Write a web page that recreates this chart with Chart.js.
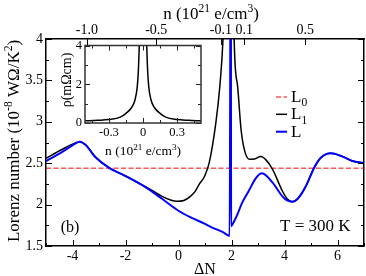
<!DOCTYPE html>
<html>
<head>
<meta charset="utf-8">
<script src="https://cdn.jsdelivr.net/npm/chart.js@4.4.1/dist/chart.umd.min.js"></script>
<style>
  body { margin: 0; background: #fff; }
  #wrap { position: relative; width: 366px; height: 276px; }
  #main { position: absolute; left: 0; top: 0; }
  #inset { position: absolute; left: 55px; top: 35px; }
</style>
</head>
<body>
<div id="wrap">
  <canvas id="main" width="366" height="276"></canvas>
  <canvas id="inset" width="152" height="125"></canvas>
</div>
<script>
// Lorenz number vs ΔN, T = 300 K
const dnL1 = [-5, -4.4, -4.0, -3.73, -3.5, -3.14, -2.63, -2.0, -1.25, -1.0, -0.62, -0.3, -0.06, 0.2, 0.45, 0.63, 0.78, 0.98, 1.16, 1.41, 1.56, 1.68, 1.8, 1.95, 2.03, 2.1, 2.23, 2.36, 2.48, 2.67, 2.85, 3.11, 3.3, 3.55, 3.92, 4.1, 4.3, 4.5, 4.81, 5.12, 5.37, 5.75, 6.19, 6.56, 7.0];
const valL1 = [2.56, 2.665, 2.73, 2.76, 2.72, 2.575, 2.446, 2.345, 2.216, 2.17, 2.1, 2.055, 2.04, 2.05, 2.10, 2.16, 2.245, 2.34, 2.506, 2.99, 3.43, 4.0, 5.2, 8.0, 6.0, 4.0, 3.43, 2.91, 2.67, 2.547, 2.55, 2.58, 2.54, 2.426, 2.164, 2.07, 2.035, 2.07, 2.225, 2.446, 2.566, 2.62, 2.58, 2.527, 2.50];

const dnL = [-5, -4.4, -4.0, -3.73, -3.5, -3.14, -2.63, -2.0, -1.25, -0.62, 0, 0.5, 0.98, 1.29, 1.66, 1.93, 1.975, 1.985, 2.1, 2.22, 2.4, 2.66, 2.92, 3.15, 3.55, 3.92, 4.1, 4.3, 4.5, 4.81, 5.12, 5.37, 5.75, 6.19, 6.56, 7.0];
const valL = [2.525, 2.635, 2.715, 2.76, 2.72, 2.575, 2.446, 2.345, 2.21, 2.07, 1.926, 1.84, 1.77, 1.72, 1.67, 1.622, 6.0, 1.74, 1.80, 1.88, 2.02, 2.17, 2.32, 2.378, 2.265, 2.10, 2.05, 2.035, 2.07, 2.225, 2.446, 2.566, 2.62, 2.58, 2.527, 2.50];

const L0 = 2.44;

const xTicks = [-4, -2, 0, 2, 4, 6];
const yTicks = [1.5, 2, 2.5, 3, 3.5, 4];
// top axis: carrier density n, placed at the matching ΔN
const topTickN = ['-1.0', '-0.5', '-0.1', '0.1', '0.5'];
const topTickDN = [-3.46, -0.84, 1.60, 2.48, 4.78];

// inset: resistivity vs n
const insetN = [-0.51, -0.4, -0.3, -0.2, -0.15, -0.1, -0.07, -0.05, -0.04, -0.033, -0.02, 0, 0.02, 0.033, 0.04, 0.05, 0.07, 0.1, 0.15, 0.2, 0.3, 0.4, 0.51];
const insetRho = [0.11, 0.14, 0.18, 0.3, 0.5, 0.8, 1.2, 1.9, 2.8, 4.0, 8.0, 20.0, 8.0, 4.0, 2.8, 1.9, 1.2, 0.8, 0.5, 0.3, 0.18, 0.14, 0.11];
const insetXTicks = [-0.3, 0, 0.3];
const insetYTicks = [0, 2, 4];

const FONT = '"Liberation Serif", "Times New Roman", serif';

function pts(xs, ys) {
  return xs.map((x, i) => ({ x: x, y: ys[i] }));
}

// text with superscripts (1) and subscripts (-1)
function richText(ctx, parts, x, y, size, align) {
  let w = 0;
  const runs = parts.map(([t, k]) => {
    const s = k ? size * 0.68 : size;
    ctx.font = s + 'px ' + FONT;
    const tw = ctx.measureText(t).width;
    w += tw;
    return { t, k, s, tw };
  });
  let cx = align === 'left' ? x : x - w / 2;
  ctx.textAlign = 'left';
  ctx.textBaseline = 'alphabetic';
  runs.forEach(r => {
    ctx.font = r.s + 'px ' + FONT;
    const dy = r.k === 1 ? -size * 0.4 : (r.k === -1 ? size * 0.25 : 0);
    ctx.fillText(r.t, cx, y + dy);
    cx += r.tw;
  });
}

function seg(ctx, x1, y1, x2, y2) {
  ctx.beginPath();
  ctx.moveTo(x1, y1);
  ctx.lineTo(x2, y2);
  ctx.stroke();
}

function fixedTicks(vals) {
  return s => { s.ticks = vals.map(v => ({ value: v })); };
}

const mainDecor = {
  id: 'mainDecor',
  afterDatasetsDraw(chart) {
    const { ctx, chartArea: a, scales } = chart;
    ctx.save();
    ctx.strokeStyle = '#000';
    ctx.lineWidth = 1;
    for (let v = -5; v <= 7; v++) {
      const px = Math.round(scales.x.getPixelForValue(v)) + 0.5;
      seg(ctx, px, a.bottom, px, a.bottom - (v % 2 === 0 ? 6 : 3));
    }
    for (let i = 0; i <= 10; i++) {
      const v = 1.5 + i * 0.25;
      const py = Math.round(scales.y.getPixelForValue(v)) + 0.5;
      const len = i % 2 === 0 ? 6 : 3;
      seg(ctx, a.left, py, a.left + len, py);
      seg(ctx, a.right, py, a.right - len, py);
    }
    topTickDN.forEach(v => {
      const px = Math.round(scales.xTop.getPixelForValue(v)) + 0.5;
      seg(ctx, px, a.top, px, a.top + 6);
    });

    ctx.fillStyle = '#000';
    // axis titles
    richText(ctx, [['n (10', 0], ['21', 1], [' e/cm', 0], ['3', 1], [')', 0]], 211, 18.5, 17);
    richText(ctx, [['\u0394N', 0]], 205, 274, 16);
    ctx.save();
    ctx.translate(18.5, 141);
    ctx.rotate(-Math.PI / 2);
    richText(ctx, [['Lorenz number (10', 0], ['-8', 1], [' W\u03A9/K', 0], ['2', 1], [')', 0]], 0, 0, 17);
    ctx.restore();

    // annotations
    richText(ctx, [['(b)', 0]], 70, 232, 16);
    richText(ctx, [['T = 300 K', 0]], 280, 230.5, 17, 'left');

    // legend
    const items = [
      ['0', '#ff0000', [5, 2.5], 1, 97],
      ['1', '#000', [], 1.5, 114.3],
      ['', '#0000ff', [], 2, 131.7]
    ];
    items.forEach(([sub, col, dash, lw, y]) => {
      ctx.strokeStyle = col;
      ctx.lineWidth = lw;
      ctx.setLineDash(dash);
      seg(ctx, 276, y, 287, y);
      ctx.setLineDash([]);
      ctx.fillStyle = '#000';
      richText(ctx, sub ? [['L', 0], [sub, -1]] : [['L', 0]], 291, y + 5, 17, 'left');
    });
    ctx.restore();
  }
};

const tickFont = { family: FONT, size: 14 };
const plain = v => String(v);

new Chart(document.getElementById('main'), {
  type: 'line',
  data: {
    datasets: [
      {
        label: 'L',
        data: pts(dnL, valL),
        borderColor: '#0000ff',
        borderWidth: 2,
        pointRadius: 0,
        cubicInterpolationMode: 'monotone'
      },
      {
        label: 'L1',
        data: pts(dnL1, valL1),
        borderColor: '#000',
        borderWidth: 1.5,
        pointRadius: 0,
        cubicInterpolationMode: 'monotone'
      },
      {
        label: 'L0',
        data: pts([-5, 7], [L0, L0]),
        borderColor: '#ff0000',
        borderWidth: 1,
        borderDash: [5, 2.5],
        pointRadius: 0
      }
    ]
  },
  options: {
    responsive: false,
    animation: false,
    layout: { padding: 0 },
    plugins: { legend: { display: false }, tooltip: { enabled: false } },
    scales: {
      x: {
        type: 'linear', position: 'bottom', min: -5, max: 7,
        afterBuildTicks: fixedTicks(xTicks),
        afterFit: s => { s.height = 30; },
        grid: { display: false, drawTicks: false },
        border: { display: true, color: '#000', width: 1.5 },
        ticks: { font: tickFont, color: '#000', padding: 2, maxRotation: 0, autoSkip: false, callback: plain }
      },
      xTop: {
        type: 'linear', position: 'top', min: -5, max: 7,
        afterBuildTicks: fixedTicks(topTickDN),
        afterFit: s => { s.height = 39; },
        grid: { display: false, drawTicks: false },
        border: { display: true, color: '#000', width: 1.5 },
        ticks: { font: tickFont, color: '#000', padding: 0, maxRotation: 0, autoSkip: false,
                 callback: (v, i) => topTickN[i] }
      },
      y: {
        type: 'linear', position: 'left', min: 1.5, max: 4,
        afterBuildTicks: fixedTicks(yTicks),
        afterFit: s => { s.width = 46; },
        grid: { display: false, drawTicks: false },
        border: { display: true, color: '#000', width: 1.5 },
        ticks: { font: tickFont, color: '#000', padding: 3, callback: plain }
      },
      yRight: {
        type: 'linear', position: 'right', min: 1.5, max: 4,
        afterFit: s => { s.width = 2; },
        grid: { display: false, drawTicks: false },
        border: { display: true, color: '#000', width: 1.5 },
        ticks: { display: false }
      }
    }
  },
  plugins: [mainDecor]
});

const insetDecor = {
  id: 'insetDecor',
  beforeDatasetsDraw(chart) {
    const { ctx, chartArea: a } = chart;
    ctx.save();
    ctx.fillStyle = '#fff';
    ctx.fillRect(a.left, a.top, a.right - a.left, a.bottom - a.top);
    ctx.restore();
  },
  afterDatasetsDraw(chart) {
    const { ctx, chartArea: a, scales } = chart;
    ctx.save();
    ctx.strokeStyle = '#222';
    ctx.lineWidth = 1;
    for (let i = -3; i <= 3; i++) {
      const px = Math.round(scales.x.getPixelForValue(i * 0.15)) + 0.5;
      const len = i % 2 === 0 ? 5 : 3;
      seg(ctx, px, a.bottom, px, a.bottom - len);
      seg(ctx, px, a.top, px, a.top + len);
    }
    for (let v = 0; v <= 4; v++) {
      const py = Math.round(scales.y.getPixelForValue(v)) + 0.5;
      const len = v % 2 === 0 ? 5 : 3;
      seg(ctx, a.left, py, a.left + len, py);
      seg(ctx, a.right, py, a.right - len, py);
    }
    ctx.strokeStyle = '#333';
    ctx.lineWidth = 1.5;
    ctx.strokeRect(a.left, a.top, a.right - a.left, a.bottom - a.top);

    ctx.fillStyle = '#000';
    richText(ctx, [['n (10', 0], ['21', 1], [' e/cm', 0], ['3', 1], [')', 0]], 88, 120, 13.5);
    ctx.save();
    ctx.translate(16, 45);
    ctx.rotate(-Math.PI / 2);
    richText(ctx, [['\u03C1(m\u03A9cm)', 0]], 0, 0, 14);
    ctx.restore();
    ctx.restore();
  }
};

const insetFont = { family: FONT, size: 12.5 };

new Chart(document.getElementById('inset'), {
  type: 'line',
  data: {
    datasets: [{
      data: pts(insetN, insetRho),
      borderColor: '#000',
      borderWidth: 1.5,
      pointRadius: 0,
      cubicInterpolationMode: 'monotone'
    }]
  },
  options: {
    responsive: false,
    animation: false,
    layout: { padding: { top: 8, right: 6, left: 0, bottom: 0 } },
    plugins: { legend: { display: false }, tooltip: { enabled: false } },
    scales: {
      x: {
        type: 'linear', min: -0.51, max: 0.51,
        afterBuildTicks: fixedTicks(insetXTicks),
        afterFit: s => { s.height = 37; },
        grid: { display: false, drawTicks: false },
        border: { display: false },
        ticks: { font: insetFont, color: '#000', padding: 2, maxRotation: 0, autoSkip: false, callback: plain }
      },
      y: {
        type: 'linear', min: 0, max: 4,
        afterBuildTicks: fixedTicks(insetYTicks),
        afterFit: s => { s.width = 30; },
        grid: { display: false, drawTicks: false },
        border: { display: false },
        ticks: { font: insetFont, color: '#000', padding: 3, callback: plain }
      }
    }
  },
  plugins: [insetDecor]
});
</script>
</body>
</html>
